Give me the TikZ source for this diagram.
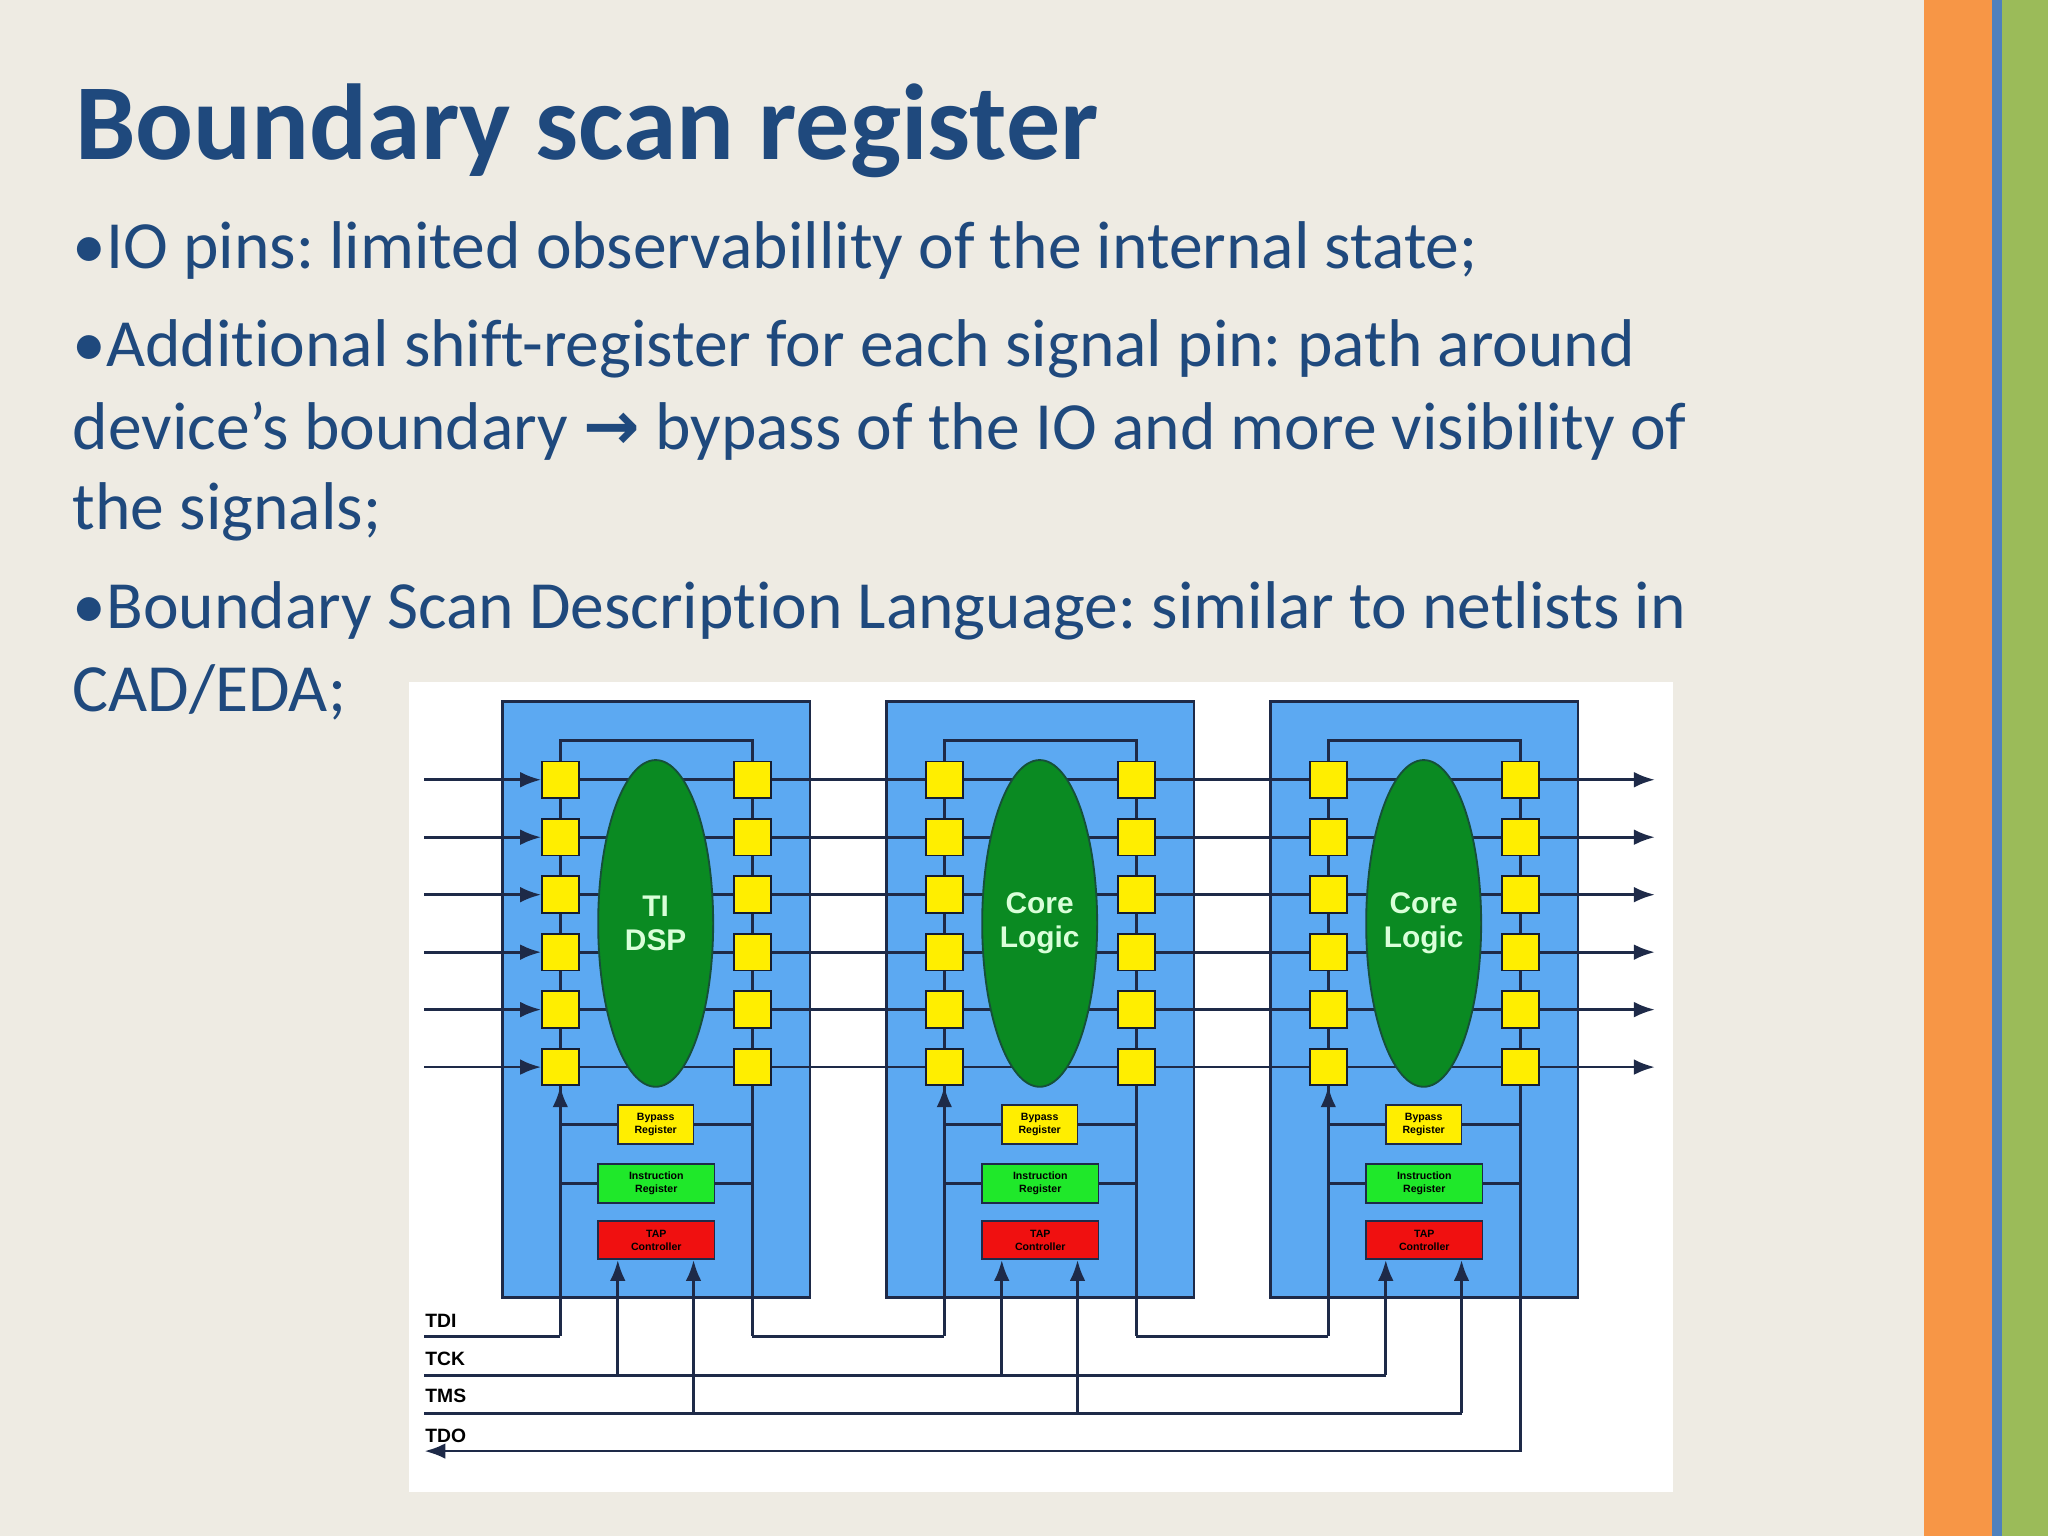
\documentclass[tikz,border=0pt]{standalone}
\usepackage{fontspec}
\setmainfont[Ligatures={NoCommon}]{Carlito}
\newfontfamily\arrowfont{DejaVu Sans}
\newfontfamily\diafont{Liberation Sans}
\usetikzlibrary{shapes.geometric,arrows.meta}
\frenchspacing
\definecolor{bg}{HTML}{EEEBE3}
\definecolor{ttl}{HTML}{1F497D}
\definecolor{chipblue}{HTML}{5CA9F2}
\definecolor{edge}{HTML}{1E2A48}
\definecolor{pinyel}{HTML}{FFEE00}
\definecolor{coregreen}{HTML}{0A8A22}
\definecolor{irgreen}{HTML}{1FE82A}
\definecolor{tapred}{HTML}{F01010}
\definecolor{orangebar}{HTML}{F79646}
\definecolor{bluebar}{HTML}{4F81BD}
\definecolor{greenbar}{HTML}{9BBB59}
\tikzset{
 bodytext/.style={anchor=west,inner sep=0,text=ttl,font=\fontsize{14.7}{18}\selectfont},
 chipbox/.style={draw=edge,fill=chipblue,line width=0.6pt,minimum width=2.35cm,minimum height=4.56cm,inner sep=0},
 pinbox/.style={draw=edge!70!black,fill=pinyel,line width=0.4pt,minimum width=0.28cm,minimum height=0.28cm,inner sep=0},
 core/.style={ellipse,draw=edge!60!coregreen,fill=coregreen,minimum width=0.88cm,minimum height=2.5cm,inner sep=0,align=center,text=white!85!green,font=\diafont\bfseries\fontsize{6.5}{7.5}\selectfont},
 regbox/.style={draw=edge,line width=0.4pt,inner sep=0,align=center,font=\diafont\bfseries\fontsize{2.3}{2.8}\selectfont},
 wire/.style={edge,line width=0.6pt},
 arr/.style={wire,-{Latex[length=1.6mm,width=1.2mm]}},
 sig/.style={anchor=west,inner sep=0,font=\diafont\bfseries\fontsize{4.2}{5}\selectfont}
}
\begin{document}
\begin{tikzpicture}[x=0.01cm,y=-0.01cm]
\fill[bg] (0,0) rectangle (1568,1176);
\fill[orangebar] (1473,0) rectangle (1525,1176);
\fill[bluebar] (1525,0) rectangle (1533,1176);
\fill[greenbar] (1533,0) rectangle (1568,1176);
\useasboundingbox (0,0) rectangle (1568,1176);
\node[anchor=west,inner sep=0,text=ttl,font=\bfseries\fontsize{23.5}{28}\selectfont] (title) at (57,100) {Boundary scan register};
\node[bodytext] (l1) at (55,192) {•IO pins: limited observabillity of the internal state;};
\node[bodytext] (l2) at (55,267) {•Additional shift-register for each signal pin: path around};
\node[bodytext] (l3) at (55,330) {device’s boundary {\arrowfont\bfseries →} bypass of the IO and more visibility of};
\node[bodytext] (l4) at (55,392) {the signals;};
\node[bodytext] (l5) at (55,468) {•Boundary Scan Description Language: similar to netlists in};
\node[bodytext] (l6) at (55,530) {CAD/EDA;};
\fill[white] (313,522) rectangle (1281,1142);
% chips
\foreach \c/\lbl in {1/{TI\\DSP},2/{Core\\Logic},3/{Core\\Logic}}{
 \pgfmathsetmacro{\dx}{(\c-1)*294}
 \node[chipbox] (chip\c) at (502.5+\dx,765) {};
 \coordinate (tl\c) at (429+\dx,567);
 \coordinate (tr\c) at (576+\dx,567);
 \coordinate (bl\c) at (429+\dx,1023);
 \coordinate (br\c) at (576+\dx,1023);
 \draw[wire] (bl\c) -- (tl\c) -- (tr\c) -- (br\c);
 \foreach \r in {1,...,6}{
  \pgfmathsetmacro{\yy}{597+(\r-1)*44}
  \draw[wire] (429+\dx,\yy) -- (576+\dx,\yy);
 }
 \node[core] (core\c) at (502+\dx,707) {\lbl};
 \foreach \r in {1,...,6}{
  \pgfmathsetmacro{\yy}{597+(\r-1)*44}
  \node[pinbox] (L\c\r) at (429+\dx,\yy) {};
  \node[pinbox] (R\c\r) at (576+\dx,\yy) {};
 }
 \draw[wire] (429+\dx,861) -- (576+\dx,861);
 \draw[wire] (429+\dx,906) -- (576+\dx,906);
 \node[regbox,fill=pinyel,minimum width=0.58cm,minimum height=0.3cm] (byp\c) at (502+\dx,861) {Bypass\\Register};
 \node[regbox,fill=irgreen,minimum width=0.89cm,minimum height=0.3cm] (ir\c) at (502.5+\dx,906) {Instruction\\Register};
 \node[regbox,fill=tapred,minimum width=0.89cm,minimum height=0.29cm] (tap\c) at (502.5+\dx,949.5) {TAP\\Controller};
 \draw[arr] (bl\c) -- (L\c6.south);
 \coordinate (ck\c) at (473+\dx,1053);
 \coordinate (ms\c) at (531+\dx,1082);
 \draw[arr] (ck\c) -- (ck\c |- tap\c.south);
 \draw[arr] (ms\c) -- (ms\c |- tap\c.south);
}
% signal lines
\foreach \r in {1,...,6}{
 \pgfmathsetmacro{\yy}{597+(\r-1)*44}
 \coordinate (in\r) at (325,\yy);
 \coordinate (out\r) at (1267,\yy);
 \draw[arr] (in\r) -- (L1\r.west);
 \draw[wire] (R1\r.east) -- (L2\r.west);
 \draw[wire] (R2\r.east) -- (L3\r.west);
 \draw[arr] (R3\r.east) -- (out\r);
}
% chain
\draw[wire] (br1) -- (bl2);
\draw[wire] (br2) -- (bl3);
% bus signals
\node[sig] (tdi) at (325,1011) {TDI};
\node[sig] (tck) at (325,1040) {TCK};
\node[sig] (tms) at (325,1069) {TMS};
\node[sig] (tdo) at (325,1099) {TDO};
\coordinate (tdiS) at (325,1023);
\coordinate (tckS) at (325,1053);
\coordinate (tmsS) at (325,1082);
\coordinate (tdoE) at (325,1111);
\coordinate (tdoS) at (1164,1111);
\draw[wire] (tdiS) -- (bl1);
\draw[wire] (tckS) -- (ck3);
\draw[wire] (tmsS) -- (ms3);
\draw[arr] (br3) -- (tdoS) -- (tdoE);
\end{tikzpicture}
\end{document}
